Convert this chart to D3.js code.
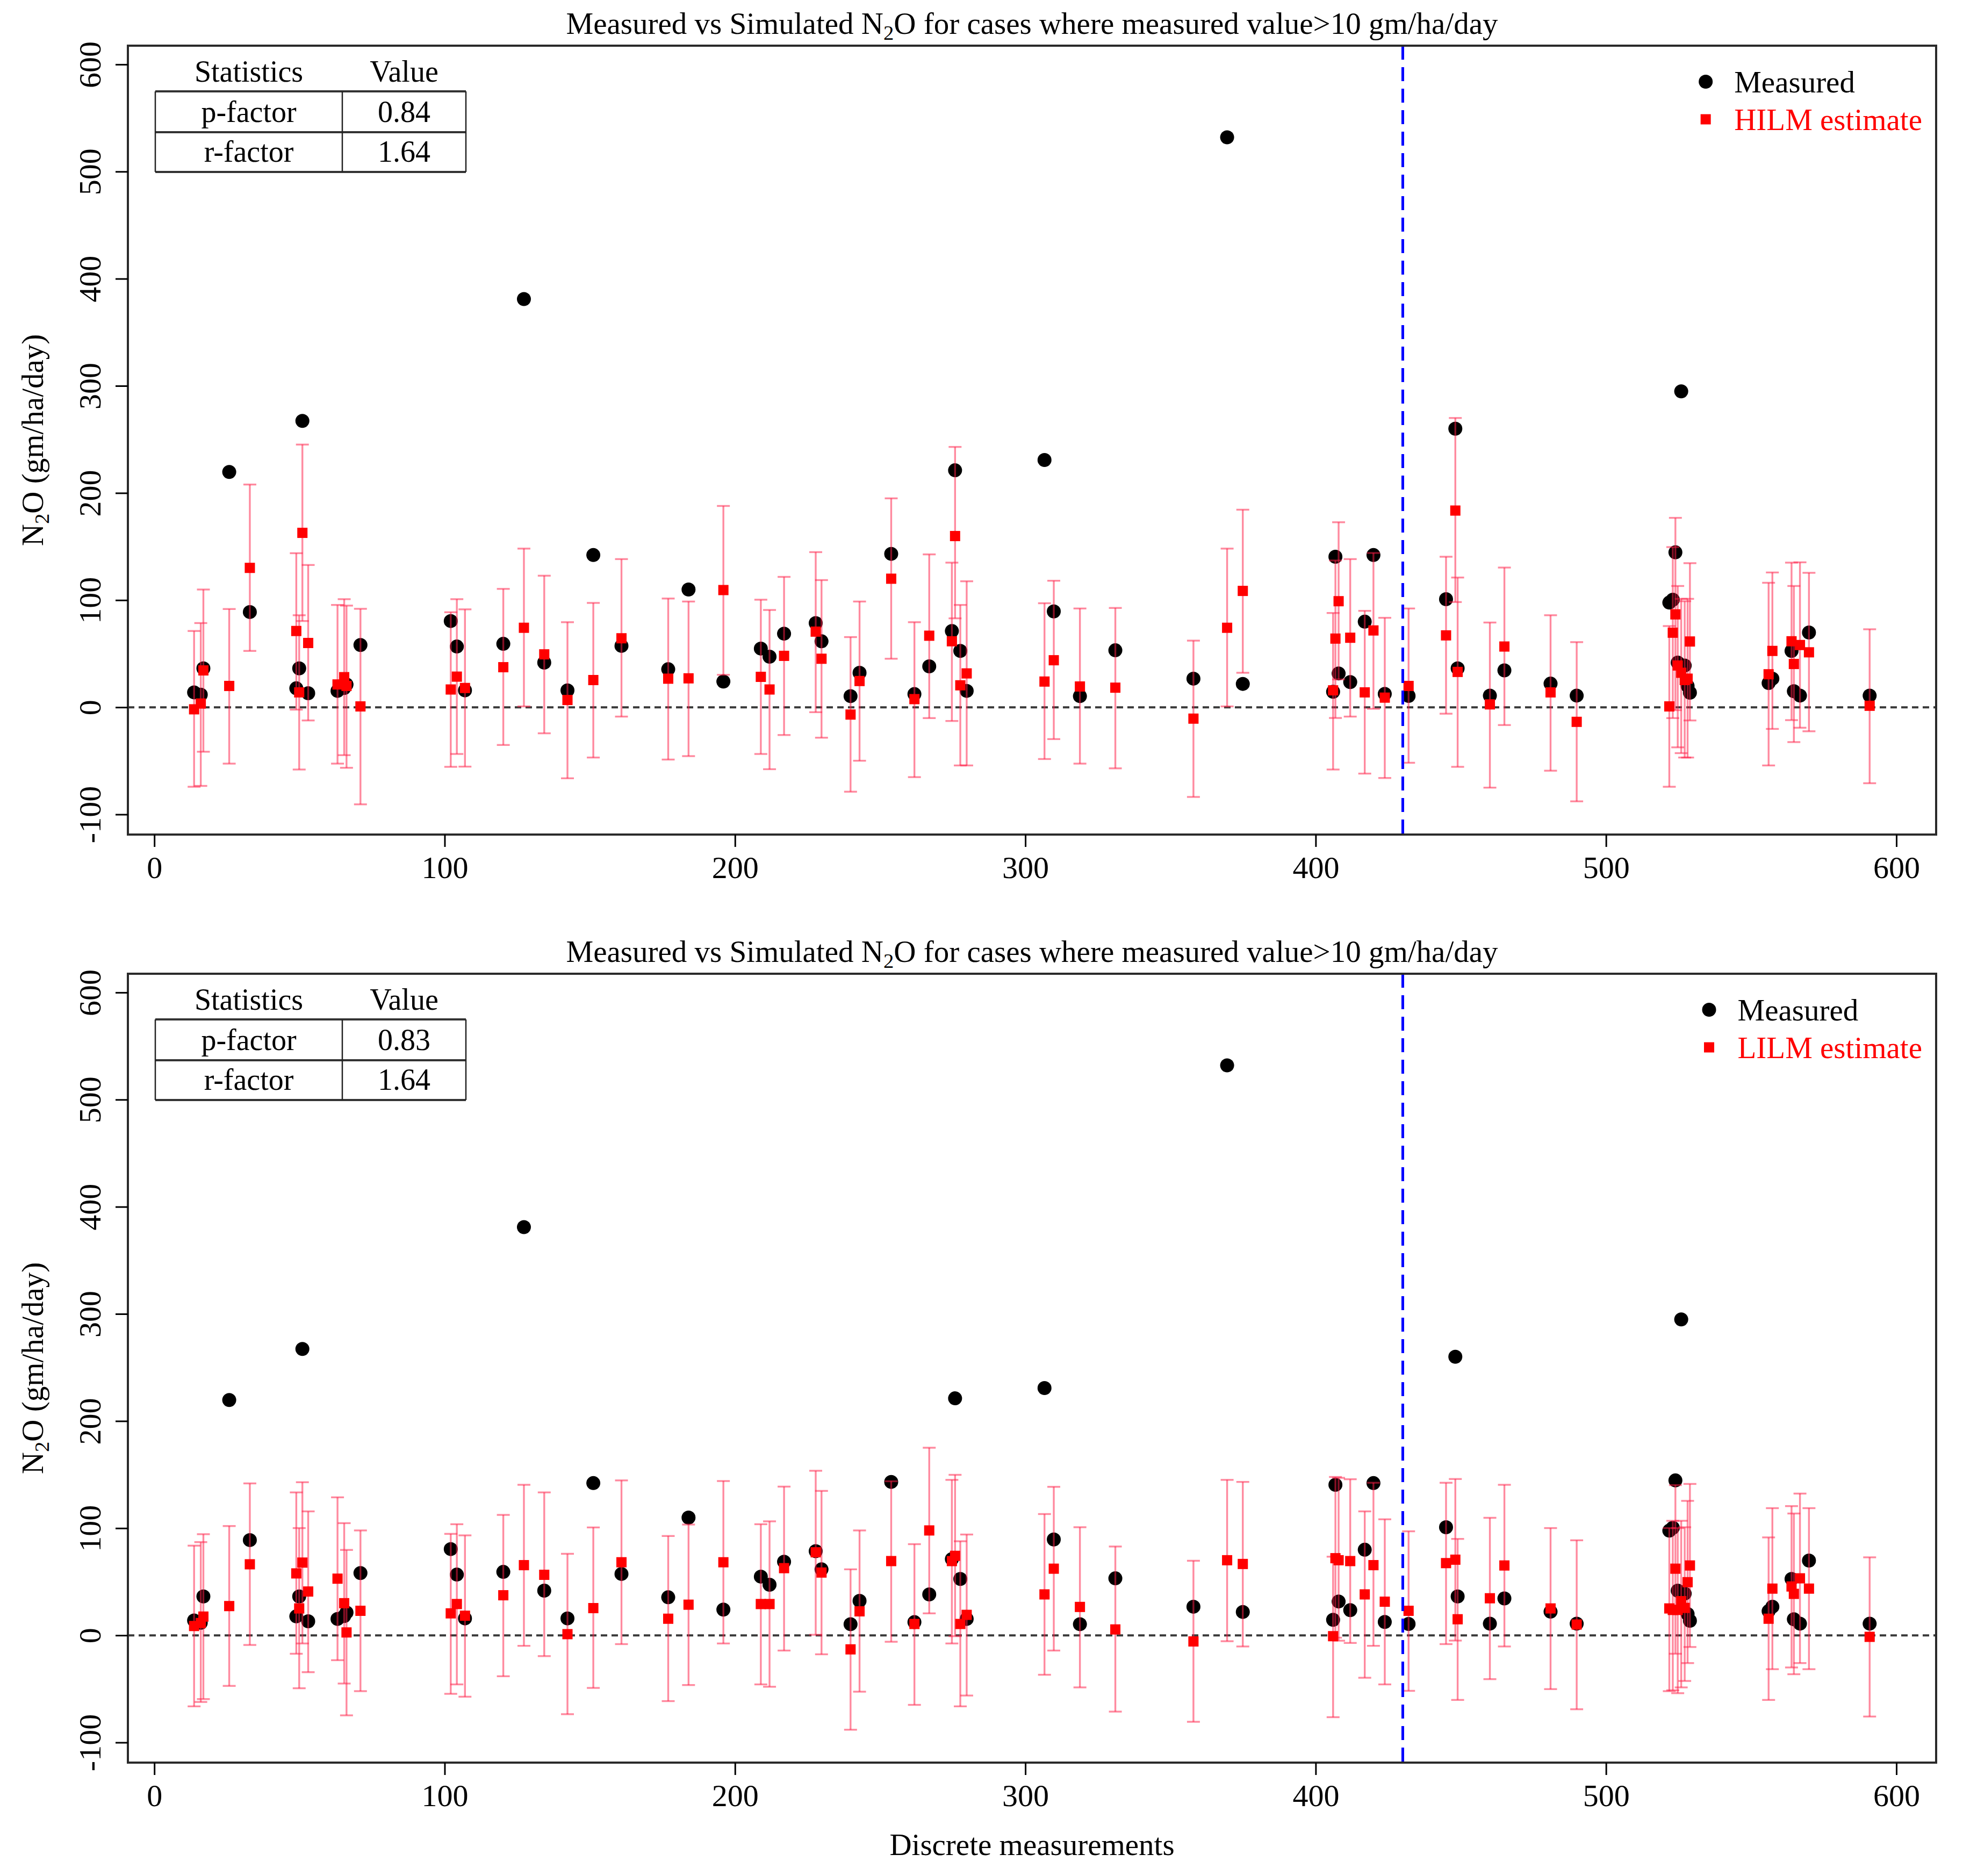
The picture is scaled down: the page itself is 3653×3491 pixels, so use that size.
<!DOCTYPE html>
<html>
<head>
<meta charset="utf-8">
<script src="https://cdn.jsdelivr.net/npm/d3@7"></script>
<style>body{margin:0;background:#fff} svg{display:block}</style>
</head>
<body>
<svg id="chart" width="3653" height="3491"></svg>
<script>
// ---------------- DATA ----------------
const idx = [13.7,16.0,16.9,25.8,32.9,48.9,49.9,51.0,53.0,63.1,65.4,66.2,71.0,
  102.1,104.2,107.0,120.2,127.3,134.3,142.3,151.2,
  160.9,177.0,184.0,196.0,208.9,211.9,216.9,227.8,229.8,239.8,242.9,253.8,261.8,266.9,274.7,275.8,277.6,279.8,
  306.6,309.8,318.8,331.0,357.9,369.5,374.9,
  406.0,406.8,407.9,411.9,416.9,419.9,423.8,432.0,444.9,448.1,448.9,460.0,465.0,
  480.9,489.9,521.8,523.0,523.9,524.7,525.9,527.1,528.1,528.9,556.0,557.3,563.9,564.7,566.8,569.9,590.8];

const measured = [13.9,11.7,36.3,219.6,88.9,17.7,36.3,267.3,13.1,15.3,18.0,21.3,58.1,
  80.5,56.7,15.8,59.2,381,41.7,15.8,142.1,
  57.3,35.5,109.9,24.0,54.8,47.2,68.7,78.6,61.6,10.4,32.2,143.2,12.3,38.2,71.2,221.2,52.6,15.3,
  230.8,89.5,10.4,53.2,26.7,532,21.8,
  14.5,140.5,31.6,23.5,79.9,142.1,12.5,10.6,100.9,260,36.3,10.9,34.4,
  22.1,10.9,97.7,100.4,144.6,41.7,294.9,39.0,19.9,13.6,22.6,26.7,52.6,15.0,10.9,69.8,10.9];

const hilm = [-1.9,3.5,34.4,19.9,130.1,71.2,13.9,162.8,60.0,21.3,28.1,19.9,0.8,
  16.6,28.6,18.0,37.4,74.2,49.4,6.8,25.4,
  64.4,26.7,27.0,109.4,28.4,16.6,48.0,70.6,45.3,-6.8,24.5,120.0,7.6,66.8,61.6,159.8,20.5,31.6,
  24.0,43.9,19.4,18.3,-10.6,74.2,108.6,
  15.8,64.1,99.0,64.9,13.9,71.7,9.0,19.9,67.1,183.6,33.0,2.7,56.7,
  13.9,-13.6,0.8,69.6,86.7,39.0,32.2,25.4,26.7,61.4,30.8,52.6,61.6,40.4,58.1,51.3,1.4];
const hilmLo = [-74.2,-73.4,-41.5,-52.6,52.6,-2.2,-58.1,80.5,-12.3,-52.6,-44.7,-56.5,-90.6,
  -55.6,-43.6,-55.4,-35.2,0.8,-24.3,-66.3,-46.9,
  -8.7,-48.8,-45.6,30.3,-43.6,-57.8,-25.9,-4.6,-28.4,-78.8,-49.9,45.3,-65.2,-10.1,-12.8,83.0,-54.3,-54.3,
  -48.3,-29.7,-52.6,-57.0,-83.7,0.8,32.2,
  -58.1,-10.0,26.0,-8.7,-61.9,-1.4,-66.0,-51.8,-6.0,98.2,-55.6,-75.0,-16.6,
  -59.2,-87.8,-74.2,-10.1,-2.7,-37.4,-42.8,-46.9,-46.9,-12.3,-54.3,-20.2,-12.0,-32.5,-19.1,-22.4,-70.9];
const hilmHi = [71.2,78.6,109.9,91.7,207.9,143.8,85.9,245.2,132.8,95.5,100.9,94.9,91.9,
  88.7,100.9,91.4,110.5,148.1,122.8,79.4,97.4,
  138.3,101.5,98.7,187.9,100.4,90.8,121.7,144.8,118.7,65.5,98.7,195.0,79.4,142.7,135.0,243.0,95.5,117.6,
  97.1,118.1,92.2,92.7,62.2,148.1,184.4,
  88.0,137.0,172.7,138.3,90.0,144.0,83.5,92.2,140.5,270.0,121.1,79.1,130.4,
  85.9,60.8,75.8,149.5,176.8,113.2,101.2,99.0,101.2,134.5,116.2,125.8,135.0,113.2,135.3,125.5,72.8];

const lilm = [8.7,11.5,17.5,27.3,66.3,57.8,25.1,67.9,40.9,52.9,30.0,2.7,22.9,
  20.5,29.2,18.3,37.4,65.5,56.5,1.1,25.4,
  68.2,15.5,28.6,68.2,29.2,29.2,62.7,77.5,58.6,-13.1,22.4,69.3,10.6,97.9,69.3,74.2,10.6,19.1,
  38.2,62.2,26.5,5.5,-5.7,70.1,66.6,
  -0.8,72.0,70.1,69.3,38.2,65.5,31.4,22.9,67.4,70.6,15.0,34.6,65.2,
  25.1,10.1,25.1,23.7,62.2,23.7,31.9,25.6,49.6,65.2,15.5,43.6,45.6,38.7,53.2,43.6,-1.4];
const lilmLo = [-66.3,-62.2,-59.5,-47.2,-9.0,-17.2,-49.4,-7.6,-34.4,-23.2,-45.0,-74.7,-52.1,
  -54.6,-45.8,-57.3,-38.2,-9.8,-19.4,-73.6,-49.1,
  -8.2,-61.4,-46.4,-7.6,-45.8,-48.0,-14.2,0.5,-17.7,-88.1,-52.6,-6.0,-64.9,20.5,-7.6,-0.8,-66.3,-56.2,
  -36.8,-14.2,-48.6,-71.2,-80.7,-5.5,-10.4,
  -76.4,-2.2,-5.0,-7.1,-39.6,-9.8,-45.8,-51.8,-8.2,-4.9,-60.3,-40.9,-10.4,
  -50.2,-69.0,-52.1,-51.3,-17.2,-54.0,-48.6,-42.6,-25.9,-10.9,-60.3,-31.6,-30.0,-36.3,-25.9,-31.6,-75.8];
const lilmHi = [83.7,87.0,94.4,102.0,141.8,133.4,100.1,142.9,115.7,128.8,104.7,79.7,97.9,
  94.7,103.7,93.3,112.4,140.5,133.4,76.1,100.7,
  144.6,92.7,103.4,144.0,103.7,106.4,138.8,153.6,134.8,61.6,97.9,143.8,85.1,175.1,145.1,149.8,87.8,94.1,
  113.2,138.6,100.9,82.9,69.6,145.1,143.2,
  73.4,147.8,147.0,145.7,115.7,142.4,108.3,97.1,142.4,145.9,90.0,109.7,140.5,
  100.1,88.7,100.1,106.9,140.2,100.1,106.9,100.9,125.5,141.3,91.4,118.7,120.6,113.7,132.3,118.7,72.8];

const xTicks = [0,100,200,300,400,500,600];
const yTicks = [-100,0,100,200,300,400,500,600];
const estimateLabels = ["HILM estimate","LILM estimate"];
const statNames = ["p-factor","r-factor"];
const statValuesHILM = ["0.84","1.64"];
const statValuesLILM = ["0.83","1.64"];
const splitIndex = 430;

// ---------------- LAYOUT ----------------
const FONT = '"Liberation Serif","Times New Roman",Times,serif';
const svg = d3.select("#chart");
svg.append("rect").attr("width",3653).attr("height",3491).attr("fill","#fff");

const box = {l:238, r:3603, t:85, b:1553};
const offsets = [0, 1727];
const x = d3.scaleLinear().domain([-9.1, 613.7]).range([box.l, box.r]);
const y = d3.scaleLinear().domain([-118.8, 617.5]).range([box.b, box.t]);

const panels = [
  {est: hilm, lo: hilmLo, hi: hilmHi, label: estimateLabels[0], stats: statValuesHILM},
  {est: lilm, lo: lilmLo, hi: lilmHi, label: estimateLabels[1], stats: statValuesLILM}
];

function n2oText(sel, before, after){
  sel.append("tspan").text(before + "N");
  sel.append("tspan").attr("font-size","0.68em").attr("dy","0.28em").text("2");
  sel.append("tspan").attr("dy","-0.19em").text("O" + after);
}

const BAR = "rgba(255,30,70,0.52)";
const R = 13, SQ = 19;

panels.forEach((p, i) => {
  const g = svg.append("g").attr("transform", `translate(0,${offsets[i]})`);
  const clipId = "clip" + i;
  g.append("clipPath").attr("id", clipId).append("rect")
    .attr("x", box.l).attr("y", box.t).attr("width", box.r - box.l).attr("height", box.b - box.t);
  const plot = g.append("g").attr("clip-path", `url(#${clipId})`);

  // zero dashed line
  plot.append("line").attr("x1", box.l).attr("x2", box.r).attr("y1", y(0)).attr("y2", y(0))
    .attr("stroke", "#3a3a3a").attr("stroke-width", 4).attr("stroke-dasharray", "12,8");

  // measured points
  plot.selectAll("circle.m").data(idx).join("circle").attr("class","m")
    .attr("cx", d => x(d)).attr("cy", (d, j) => y(measured[j])).attr("r", R).attr("fill", "#000");

  // error bars
  const eb = plot.selectAll("g.eb").data(idx).join("g").attr("class","eb")
    .attr("stroke", BAR).attr("stroke-width", 3.4);
  eb.append("line").attr("x1", d => x(d)).attr("x2", d => x(d))
    .attr("y1", (d, j) => y(p.lo[j])).attr("y2", (d, j) => y(p.hi[j]));
  eb.append("line").attr("x1", d => x(d) - 12).attr("x2", d => x(d) + 12)
    .attr("y1", (d, j) => y(p.lo[j])).attr("y2", (d, j) => y(p.lo[j]));
  eb.append("line").attr("x1", d => x(d) - 12).attr("x2", d => x(d) + 12)
    .attr("y1", (d, j) => y(p.hi[j])).attr("y2", (d, j) => y(p.hi[j]));

  // estimate squares
  plot.selectAll("rect.e").data(idx).join("rect").attr("class","e")
    .attr("x", d => x(d) - SQ / 2).attr("y", (d, j) => y(p.est[j]) - SQ / 2)
    .attr("width", SQ).attr("height", SQ).attr("fill", "#ff0000");

  // blue dashed split line
  plot.append("line").attr("x1", x(splitIndex)).attr("x2", x(splitIndex))
    .attr("y1", box.t).attr("y2", box.b)
    .attr("stroke", "#0000ff").attr("stroke-width", 5).attr("stroke-dasharray", "26,14");

  // box
  g.append("rect").attr("x", box.l).attr("y", box.t).attr("width", box.r - box.l).attr("height", box.b - box.t)
    .attr("fill", "none").attr("stroke", "#2a2a2a").attr("stroke-width", 4);

  // y axis
  g.append("g").attr("transform", `translate(${box.l},0)`)
    .call(d3.axisLeft(y).tickValues(yTicks).tickSize(23).tickFormat(d => String(d)))
    .call(s => {
      s.select(".domain").remove();
      s.attr("font-family", FONT).attr("font-size", 58);
      s.selectAll(".tick line").attr("stroke", "#000").attr("stroke-width", 3);
      s.selectAll(".tick text").attr("x", null).attr("dy", null).attr("fill", "#000")
        .attr("text-anchor", "middle").attr("transform", "translate(-51,0) rotate(-90)");
    });

  // x axis
  g.append("g").attr("transform", `translate(0,${box.b})`)
    .call(d3.axisBottom(x).tickValues(xTicks).tickSize(23).tickFormat(d => String(d)))
    .call(s => {
      s.select(".domain").remove();
      s.attr("font-family", FONT).attr("font-size", 58);
      s.selectAll(".tick line").attr("stroke", "#000").attr("stroke-width", 3);
      s.selectAll(".tick text").attr("y", 81).attr("dy", null).attr("fill", "#000");
    });

  // title
  const t = g.append("text").attr("x", (box.l + box.r) / 2).attr("y", 63)
    .attr("text-anchor", "middle").attr("font-family", FONT).attr("font-size", 57).attr("fill", "#000");
  n2oText(t, "Measured vs Simulated ", " for cases where measured value>10 gm/ha/day");

  // y label
  const yl = g.append("text").attr("transform", `translate(80,${(box.t + box.b) / 2}) rotate(-90)`)
    .attr("text-anchor", "middle").attr("font-family", FONT).attr("font-size", 57).attr("fill", "#000");
  n2oText(yl, "", " (gm/ha/day)");

  // statistics table
  const tb = g.append("g").attr("font-family", FONT).attr("font-size", 56).attr("fill", "#000");
  const tl = 289, tm = 637, tr = 867, ty0 = 170, ty1 = 246, ty2 = 320;
  tb.append("text").attr("x", (tl + tm) / 2).attr("y", 152).attr("text-anchor", "middle").text("Statistics");
  tb.append("text").attr("x", (tm + tr) / 2).attr("y", 152).attr("text-anchor", "middle").text("Value");
  [ty0, ty1, ty2].forEach(yy => tb.append("line").attr("x1", tl).attr("x2", tr).attr("y1", yy).attr("y2", yy)
    .attr("stroke", "#333").attr("stroke-width", 4));
  [tl, tm, tr].forEach(xx => tb.append("line").attr("x1", xx).attr("x2", xx).attr("y1", ty0).attr("y2", ty2)
    .attr("stroke", "#222").attr("stroke-width", 2.5));
  statNames.forEach((nm, k) => {
    const base = k === 0 ? 227 : 301;
    tb.append("text").attr("x", (tl + tm) / 2).attr("y", base).attr("text-anchor", "middle").text(nm);
    tb.append("text").attr("x", (tm + tr) / 2).attr("y", base).attr("text-anchor", "middle").text(p.stats[k]);
  });

  // legend (right aligned like R's topright legend)
  const lg = g.append("g").attr("font-family", FONT).attr("font-size", 57);
  const items = [{label: "Measured", color: "#000", shape: "circle"}, {label: p.label, color: "#ff0000", shape: "square"}];
  const texts = items.map((it, k) => lg.append("text").attr("y", k === 0 ? 172 : 242).attr("fill", it.color).text(it.label));
  const maxLen = d3.max(texts, tx => tx.node().getComputedTextLength());
  const textX = 3577 - maxLen;
  texts.forEach(tx => tx.attr("x", textX));
  items.forEach((it, k) => {
    const cy = k === 0 ? 152 : 222;
    if (it.shape === "circle") lg.append("circle").attr("cx", textX - 53).attr("cy", cy).attr("r", R).attr("fill", it.color);
    else lg.append("rect").attr("x", textX - 53 - SQ / 2).attr("y", cy - SQ / 2).attr("width", SQ).attr("height", SQ).attr("fill", it.color);
  });
});

// x axis title (bottom panel only)
svg.append("text").attr("x", (box.l + box.r) / 2).attr("y", 3452).attr("text-anchor", "middle")
  .attr("font-family", FONT).attr("font-size", 57).attr("fill", "#000").text("Discrete measurements");
</script>
</body>
</html>
